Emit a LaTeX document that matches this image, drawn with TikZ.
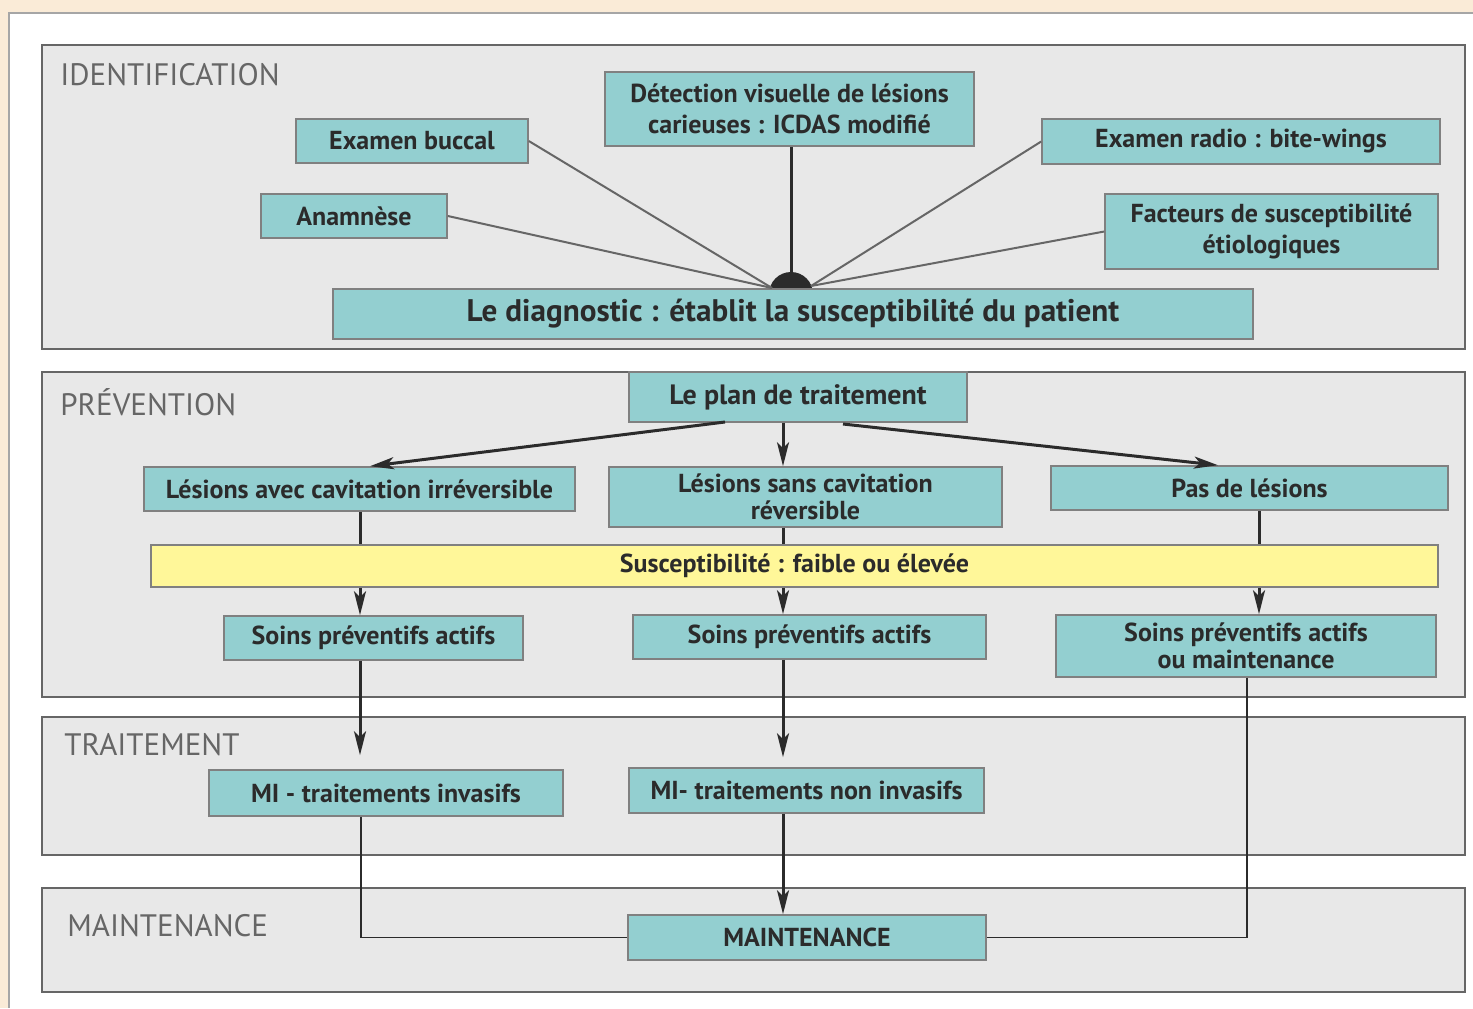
\documentclass[tikz,border=0pt]{standalone}
\usepackage{fontspec}
\setmainfont{PT Sans}
\usetikzlibrary{arrows.meta}

\definecolor{cream}{HTML}{FAEBD7}
\definecolor{panelgray}{HTML}{E8E8E8}
\definecolor{teal}{HTML}{93CFD0}
\definecolor{lightyellow}{HTML}{FFF799}
\definecolor{inkdark}{HTML}{2B2B2B}
\definecolor{labelgray}{HTML}{666666}

\tikzset{
    panel/.style={draw=labelgray, line width=1pt, fill=panelgray},
    panellabel/.style={anchor=west, text=labelgray, font=\fontsize{15.5}{18}\selectfont, inner sep=0pt},
    box/.style={draw=gray, line width=0.8pt, fill=teal, text=inkdark, font=\bfseries\fontsize{13}{15.5}\selectfont,
        align=center, inner sep=0pt},
    tightbox/.style={box, font=\bfseries\fontsize{13}{13.5}\selectfont},
    spoke/.style={draw=labelgray, line width=1pt},
    arr/.style={draw=inkdark, line width=1.5pt, -{Stealth[length=12pt, width=6pt, inset=3pt]}},
    link/.style={draw=inkdark, line width=1.5pt},
    thin/.style={draw=inkdark, line width=0.9pt}
}

\begin{document}
\begin{tikzpicture}[x=0.5pt, y=-0.5pt]
    \useasboundingbox (0,0) rectangle (1473,1008);
    % Background
    \fill[cream] (0,0) rectangle (1473,1008);
    \fill[white] (9,13) rectangle (1473,1008);
    \draw[gray!70, line width=1pt] (1473,13) -- (9,13) -- (9,1008);

    % Panels
    \draw[panel] (42,45) rectangle (1465,349);
    \draw[panel] (42,372) rectangle (1465,697);
    \draw[panel] (42,717) rectangle (1465,855);
    \draw[panel] (42,888) rectangle (1465,992);
    \node[panellabel] (lblid) at (60,75) {IDENTIFICATION};
    \node[panellabel] (lblprev) at (60,402) {PRÉVENTION};
    \node[panellabel] (lbltrait) at (64,745) {TRAITEMENT};
    \node[panellabel] (lblmaint) at (67,926) {MAINTENANCE};

    % Identification
    \fill[inkdark] (791,294) circle[radius=22];
    \node[box, minimum width=116pt, minimum height=22pt] (exam) at (412,141) {Examen buccal};
    \node[box, minimum width=184.5pt, minimum height=37pt] (detect) at (789.5,109) {Détection visuelle de lésions\\carieuses : ICDAS modifié};
    \node[box, minimum width=199pt, minimum height=22.5pt] (radio) at (1241,141.5) {Examen radio : bite-wings};
    \node[box, minimum width=93pt, minimum height=22pt] (anam) at (354,216) {Anamnèse};
    \node[box, minimum width=166.5pt, minimum height=37.5pt] (fact) at (1271.5,231.5) {Facteurs de susceptibilité\\étiologiques};
    \node[box, minimum width=460pt, minimum height=25pt, font=\bfseries\fontsize{15.6}{16}\selectfont] (diag) at (793,314) {Le diagnostic : établit la susceptibilité du patient};
    \coordinate (hubL) at (772,288);
    \coordinate (hubR) at (811,286);
    \draw[spoke] (exam.east) -- (hubL);
    \draw[spoke] (anam.east) -- (hubL);
    \draw[spoke] (radio.west) -- (hubR);
    \draw[spoke] (fact.west) -- (hubR);
    \draw[link] (detect.south -| 791,0) -- (791,275);

    % Prevention
    \node[box, minimum width=169pt, minimum height=25pt, font=\bfseries\fontsize{14}{15}\selectfont] (plan) at (798,397) {Le plan de traitement};
    \node[box, minimum width=215.5pt, minimum height=22pt] (avec) at (359.5,489) {Lésions avec cavitation irréversible};
    \node[tightbox, minimum width=196.5pt, minimum height=30pt] (sans) at (805.5,497) {Lésions sans cavitation\\réversible};
    \node[box, minimum width=198.5pt, minimum height=22pt] (pas) at (1249.5,488) {Pas de lésions};
    \node[box, fill=lightyellow, minimum width=643.5pt, minimum height=21pt] (susc) at (794.5,566) {Susceptibilité : faible ou élevée};
    \node[box, minimum width=149.5pt, minimum height=22pt] (soinsA) at (373.5,638) {Soins préventifs actifs};
    \node[box, minimum width=176.5pt, minimum height=22pt] (soinsB) at (809.5,637) {Soins préventifs actifs};
    \node[tightbox, minimum width=190pt, minimum height=31pt] (soinsC) at (1246,646) {Soins préventifs actifs\\ou maintenance};
    \draw[arr] (725,422) -- (avec.north -| 370,0);
    \draw[arr] (plan.south -| 783,0) -- (sans.north -| 783,0);
    \draw[arr] (843,424) -- (pas.north -| 1218,0);
    \draw[link] (avec.south -| 360,0) -- (susc.north -| 360,0);
    \draw[link] (sans.south -| 783,0) -- (susc.north -| 783,0);
    \draw[link] (pas.south -| 1259,0) -- (susc.north -| 1259,0);
    \draw[arr] (susc.south -| 360,0) -- (soinsA.north -| 360,0);
    \draw[arr] (susc.south -| 783,0) -- (soinsB.north -| 783,0);
    \draw[arr] (susc.south -| 1259,0) -- (soinsC.north -| 1259,0);

    % Traitement
    \node[box, minimum width=177pt, minimum height=23pt] (miA) at (386,793) {MI - traitements invasifs};
    \node[box, minimum width=177.5pt, minimum height=22.5pt] (miB) at (806.5,790.5) {MI- traitements non invasifs};
    \draw[arr, shorten >=7pt] (soinsA.south -| 360,0) -- (miA.north -| 360,0);
    \draw[arr, shorten >=5pt] (soinsB.south -| 783,0) -- (miB.north -| 783,0);

    % Maintenance
    \node[box, minimum width=179pt, minimum height=22.5pt] (maint) at (807,937.5) {MAINTENANCE};
    \draw[arr] (miB.south -| 783,0) -- (maint.north -| 783,0);
    \draw[thin] (miA.south -| 361,0) |- (maint.west);
    \draw[thin] (soinsC.south -| 1247,0) |- (maint.east);
\end{tikzpicture}
\end{document}
